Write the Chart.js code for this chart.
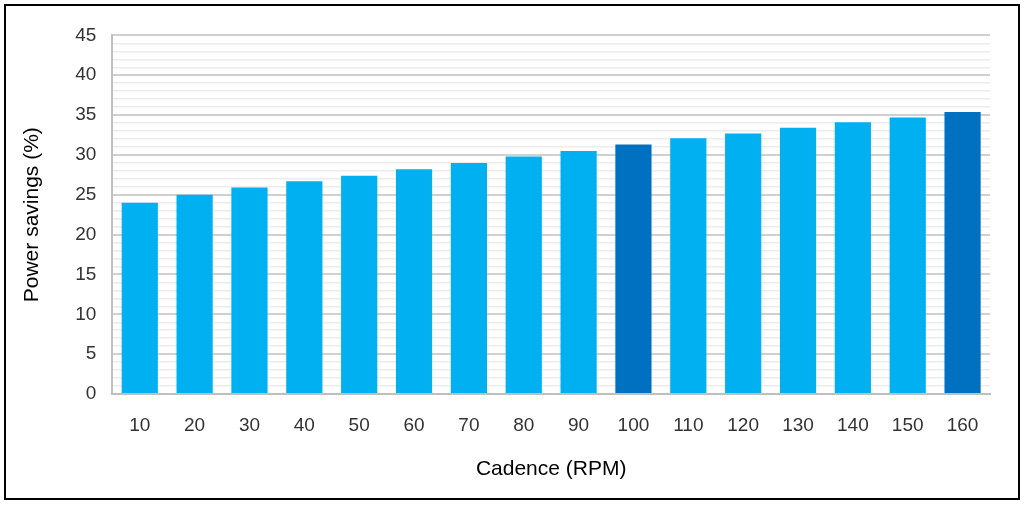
<!DOCTYPE html>
<html>
<head>
<meta charset="utf-8" />
<title>Power savings</title>
<script src="https://cdn.jsdelivr.net/npm/chart.js@4"></script>
<style>
  body { margin: 0; background: #fff; }
  #frame { position: absolute; left: 4px; top: 4px; width: 1012px; height: 492px; border: 2px solid #000; }
  #box { position: absolute; left: 8px; top: 8px; width: 1000px; height: 484px; }
</style>
</head>
<body>
<div id="frame"></div>
<div id="box"><canvas id="myChart"></canvas></div>
<script>
// cadence categories and savings
const cadence = ['10','20','30','40','50','60','70','80','90','100','110','120','130','140','150','160'];
const savings = [24, 25, 25.9, 26.7, 27.4, 28.2, 29, 29.8, 30.5, 31.3, 32.1, 32.7, 33.4, 34.1, 34.7, 35.4];
const highlighted = ['100', '160'];

const barColors = cadence.map(c => highlighted.includes(c) ? '#0070C0' : '#00B0F0');

new Chart(document.getElementById('myChart'), {
  type: 'bar',
  data: {
    labels: cadence,
    datasets: [{ data: savings, backgroundColor: barColors, categoryPercentage: 0.66, barPercentage: 1 }]
  },
  options: {
    responsive: true,
    maintainAspectRatio: false,
    animation: false,
    layout: { padding: { left: 8, right: 18, top: 6, bottom: 6 } },
    plugins: { legend: { display: false }, tooltip: { enabled: false } },
    scales: {
      x: {
        grid: { display: false },
        border: { color: '#bfbfbf', width: 2 },
        ticks: { color: '#333', padding: 12, font: { family: 'Liberation Sans', size: 19 } },
        title: { display: true, text: 'Cadence (RPM)', color: '#000', padding: { top: 8 }, font: { family: 'Liberation Sans', size: 21 } }
      },
      y: {
        min: 0, max: 45,
        border: { color: '#bfbfbf', width: 2 },
        grid: {
          color: ctx => ctx.tick.value % 5 === 0 ? '#d0d0d0' : '#ececec',
          lineWidth: ctx => ctx.tick.value % 5 === 0 ? 2 : 1.5,
          drawTicks: false
        },
        ticks: {
          stepSize: 1, autoSkip: false, padding: 16,
          callback: v => v % 5 === 0 ? v : '',
          color: '#333', font: { family: 'Liberation Sans', size: 19 }
        },
        title: { display: true, text: 'Power savings (%)', color: '#000', padding: { bottom: 14 }, font: { family: 'Liberation Sans', size: 21 } }
      }
    }
  }
});
</script>
</body>
</html>
